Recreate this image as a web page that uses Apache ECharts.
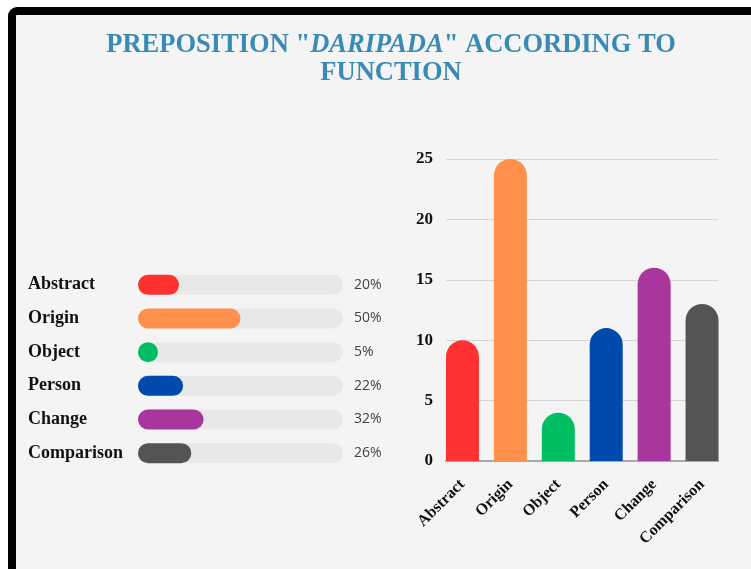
<!DOCTYPE html>
<html>
<head>
<meta charset="utf-8">
<script src="https://cdn.jsdelivr.net/npm/echarts@6/dist/echarts.min.js"></script>
<style>
  html, body { margin: 0; padding: 0; background: #ffffff; }
  .frame {
    position: absolute; left: 8px; top: 7px; width: 760px; height: 600px;
    border-left: 8px solid #000; border-top: 8px solid #000;
    border-top-left-radius: 9px; background: #f4f4f4;
  }
  #chart { position: absolute; left: 0; top: 0; width: 751px; height: 569px; }
</style>
</head>
<body>
<div class="frame"></div>
<div id="chart"></div>
<script>
// categories & values
const functions = ['Abstract', 'Origin', 'Object', 'Person', 'Change', 'Comparison']
const shares = [20, 50, 5, 22, 32, 26]           // percent, left progress bars
const counts = [10, 25, 4, 11, 16, 13]           // right column chart
const colors = ['#ff3131', '#ff914d', '#00bf63', '#004aad', '#a8369d', '#545454']
const yTicks = [0, 5, 10, 15, 20, 25]

const serif = '"Liberation Serif", "Times New Roman", serif'

const chart = echarts.init(document.getElementById('chart'))

const option = {
  backgroundColor: 'transparent',
  animation: false,
  title: {
    text: '{a|PREPOSITION "}{i|DARIPADA}{a|" ACCORDING TO}\n{a|FUNCTION}',
    left: 386,
    top: 26,
    textAlign: 'center',
    textStyle: {
      rich: {
        a: { fontFamily: serif, fontWeight: 'bold', fontSize: 26.5, color: '#3a8ab6', lineHeight: 28 },
        i: { fontFamily: serif, fontWeight: 'bold', fontStyle: 'italic', fontSize: 26.5, color: '#3a8ab6', lineHeight: 28 },
      },
    },
  },
  grid: [
    // left progress bars
    { left: 138, right: 408, top: 268, bottom: 99 },
    // right chart: axes, split lines
    { left: 446, right: 33, top: 159, bottom: 108 },
    // right chart: bars (bands flush with the plot edges)
    { left: 438.5, right: 25, top: 159, bottom: 108 },
  ],
  xAxis: [
    { gridIndex: 0, type: 'value', min: 0, max: 100, show: false },
    {
      gridIndex: 1, type: 'value', min: 0, max: 1,
      axisLine: { show: true, lineStyle: { color: '#a8a8a8', width: 2 } },
      axisTick: { show: false }, axisLabel: { show: false }, splitLine: { show: false },
    },
    {
      gridIndex: 2, type: 'category', data: functions,
      axisLine: { show: false }, axisTick: { show: false },
      axisLabel: {
        rotate: 45, margin: 21, interval: 0,
        fontFamily: serif, fontWeight: 'bold', fontSize: 16, color: '#111',
      },
    },
  ],
  yAxis: [
    {
      gridIndex: 0, type: 'category', data: functions, inverse: true,
      axisLine: { show: false }, axisTick: { show: false },
      axisLabel: {
        align: 'left', margin: 110,
        fontFamily: serif, fontWeight: 'bold', fontSize: 18, color: '#111',
      },
    },
    {
      gridIndex: 0, type: 'category', position: 'right', inverse: true,
      data: shares.map(v => v + '%'),
      axisLine: { show: false }, axisTick: { show: false },
      axisLabel: {
        align: 'left', margin: 11,
        fontFamily: '"Open Sans", sans-serif', fontSize: 14, color: '#444',
      },
    },
    {
      gridIndex: 1, type: 'value', min: 0, max: 25, interval: 5,
      axisLine: { show: false }, axisTick: { show: false },
      axisLabel: {
        margin: 13, fontFamily: serif, fontWeight: 'bold', fontSize: 17, color: '#111',
        formatter: v => (yTicks.includes(v) ? String(v) : ''),
      },
      splitLine: { lineStyle: { color: '#d4d4d4', width: 1 } },
    },
    { gridIndex: 2, type: 'value', min: 0, max: 25, show: false },
  ],
  series: [
    {
      type: 'bar',
      xAxisIndex: 0, yAxisIndex: 0,
      data: shares.map((v, i) => ({ value: v, itemStyle: { color: colors[i] } })),
      barWidth: 20,
      barMinHeight: 20,
      itemStyle: { borderRadius: 10 },
      showBackground: true,
      backgroundStyle: { color: '#e8e8e8', borderRadius: 10 },
    },
    {
      type: 'bar',
      xAxisIndex: 2, yAxisIndex: 3,
      data: counts.map((v, i) => ({ value: v, itemStyle: { color: colors[i] } })),
      barWidth: 33,
      itemStyle: { borderRadius: [16.5, 16.5, 0, 0] },
      z: 5,
    },
  ],
}

chart.setOption(option)
</script>
</body>
</html>
